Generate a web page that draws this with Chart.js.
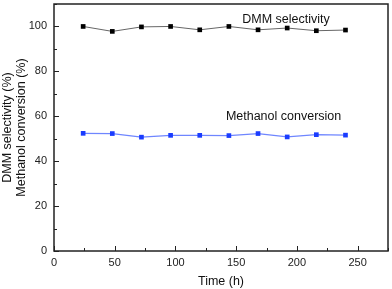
<!DOCTYPE html>
<html>
<head>
<meta charset="utf-8">
<script src="https://cdn.jsdelivr.net/npm/chart.js@4"></script>
<style>
  html, body { margin: 0; padding: 0; background: #fff; }
  #wrap { width: 392px; height: 289px; }
</style>
</head>
<body>
<div id="wrap"><canvas id="myChart" width="392" height="289"></canvas></div>
<script>
var times = [24, 48, 72, 96, 120, 144, 168, 192, 216, 240];
var dmmSelectivity = [100.0, 97.8, 99.8, 100.0, 98.5, 100.0, 98.5, 99.3, 98.1, 98.4];
var methanolConversion = [52.4, 52.3, 50.7, 51.5, 51.5, 51.4, 52.3, 50.8, 51.8, 51.6];
var xTicks = [0, 50, 100, 150, 200, 250];
var yTicks = [0, 20, 40, 60, 80, 100];

function toPoints(xs, ys){
    var pts = [];
    for(let i=0;i<xs.length;i++){
        pts.push({x: xs[i], y: ys[i]});
    }
    return pts;
}

// frame, inward ticks and the two series labels
const framePlugin = {
    id: 'frame',
    afterDraw(chart){
        var ctx = chart.ctx;
        var a = chart.chartArea;
        var xs = chart.scales.x, ys = chart.scales.y;
        ctx.save();
        ctx.strokeStyle = '#222';
        ctx.lineWidth = 1.5;
        ctx.strokeRect(a.left, a.top, a.right - a.left, a.bottom - a.top);
        ctx.lineWidth = 1;
        ctx.beginPath();
        for(let v=0; v<=275; v+=25){
            var px = Math.round(xs.getPixelForValue(v)) + 0.5;
            var len = (v % 50 == 0) ? 5 : 3;
            ctx.moveTo(px, a.bottom); ctx.lineTo(px, a.bottom - len);
        }
        for(let v=0; v<=110; v+=10){
            var py = Math.round(ys.getPixelForValue(v)) + 0.5;
            var len2 = (v % 20 == 0) ? 5 : 3;
            ctx.moveTo(a.left, py); ctx.lineTo(a.left + len2, py);
        }
        ctx.stroke();
        ctx.fillStyle = '#111';
        ctx.font = '12.5px "Liberation Sans", Arial, sans-serif';
        ctx.textAlign = 'center';
        ctx.textBaseline = 'middle';
        ctx.fillText('DMM selectivity', xs.getPixelForValue(191), ys.getPixelForValue(103.2));
        ctx.fillText('Methanol conversion', xs.getPixelForValue(189), ys.getPixelForValue(60));
        ctx.restore();
    }
};

const CTX = document.getElementById('myChart').getContext('2d');
const CONFIG = {
    type: 'line',
    data: {
        datasets: [{
            label: 'DMM selectivity',
            data: toPoints(times, dmmSelectivity),
            borderColor: '#666',
            borderWidth: 1,
            pointStyle: 'rect',
            pointRadius: 3.3,
            pointBackgroundColor: '#000',
            pointBorderColor: '#000',
            pointBorderWidth: 0,
            tension: 0
        }, {
            label: 'Methanol conversion',
            data: toPoints(times, methanolConversion),
            borderColor: '#6f86ff',
            borderWidth: 1.2,
            pointStyle: 'rect',
            pointRadius: 3.3,
            pointBackgroundColor: '#1a3cff',
            pointBorderColor: '#1a3cff',
            pointBorderWidth: 0,
            tension: 0
        }]
    },
    options: {
        responsive: false,
        animation: false,
        layout: { padding: { top: 2, right: 2, left: 0, bottom: 0 } },
        plugins: { legend: { display: false }, tooltip: { enabled: false } },
        scales: {
            x: {
                type: 'linear',
                min: 0,
                max: 275,
                afterBuildTicks: function(scale){ scale.ticks = xTicks.map(v => ({value: v})); },
                afterFit: function(scale){ scale.height = 38; scale.paddingLeft = 0; scale.paddingRight = 0; },
                grid: { display: false, drawTicks: false },
                border: { display: false },
                ticks: {
                    color: '#222',
                    padding: 5,
                    maxRotation: 0,
                    font: { family: '"Liberation Sans", Arial, sans-serif', size: 11 }
                },
                title: {
                    display: true,
                    text: 'Time (h)',
                    color: '#111',
                    padding: { top: 2, bottom: 0 },
                    font: { family: '"Liberation Sans", Arial, sans-serif', size: 12.5 }
                }
            },
            y: {
                type: 'linear',
                min: 0,
                max: 110,
                afterBuildTicks: function(scale){ scale.ticks = yTicks.map(v => ({value: v})); },
                afterFit: function(scale){ scale.width = 54; scale.paddingTop = 0; scale.paddingBottom = 0; },
                grid: { display: false, drawTicks: false },
                border: { display: false },
                ticks: {
                    color: '#222',
                    padding: 7,
                    font: { family: '"Liberation Sans", Arial, sans-serif', size: 11 }
                },
                title: {
                    display: true,
                    text: ['DMM selectivity (%)', 'Methanol conversion (%)'],
                    color: '#111',
                    padding: { top: 0, bottom: 2 },
                    font: { family: '"Liberation Sans", Arial, sans-serif', size: 12.5, lineHeight: 1.15 }
                }
            }
        }
    },
    plugins: [framePlugin]
};

var myChart = new Chart(CTX, CONFIG);
</script>
</body>
</html>
